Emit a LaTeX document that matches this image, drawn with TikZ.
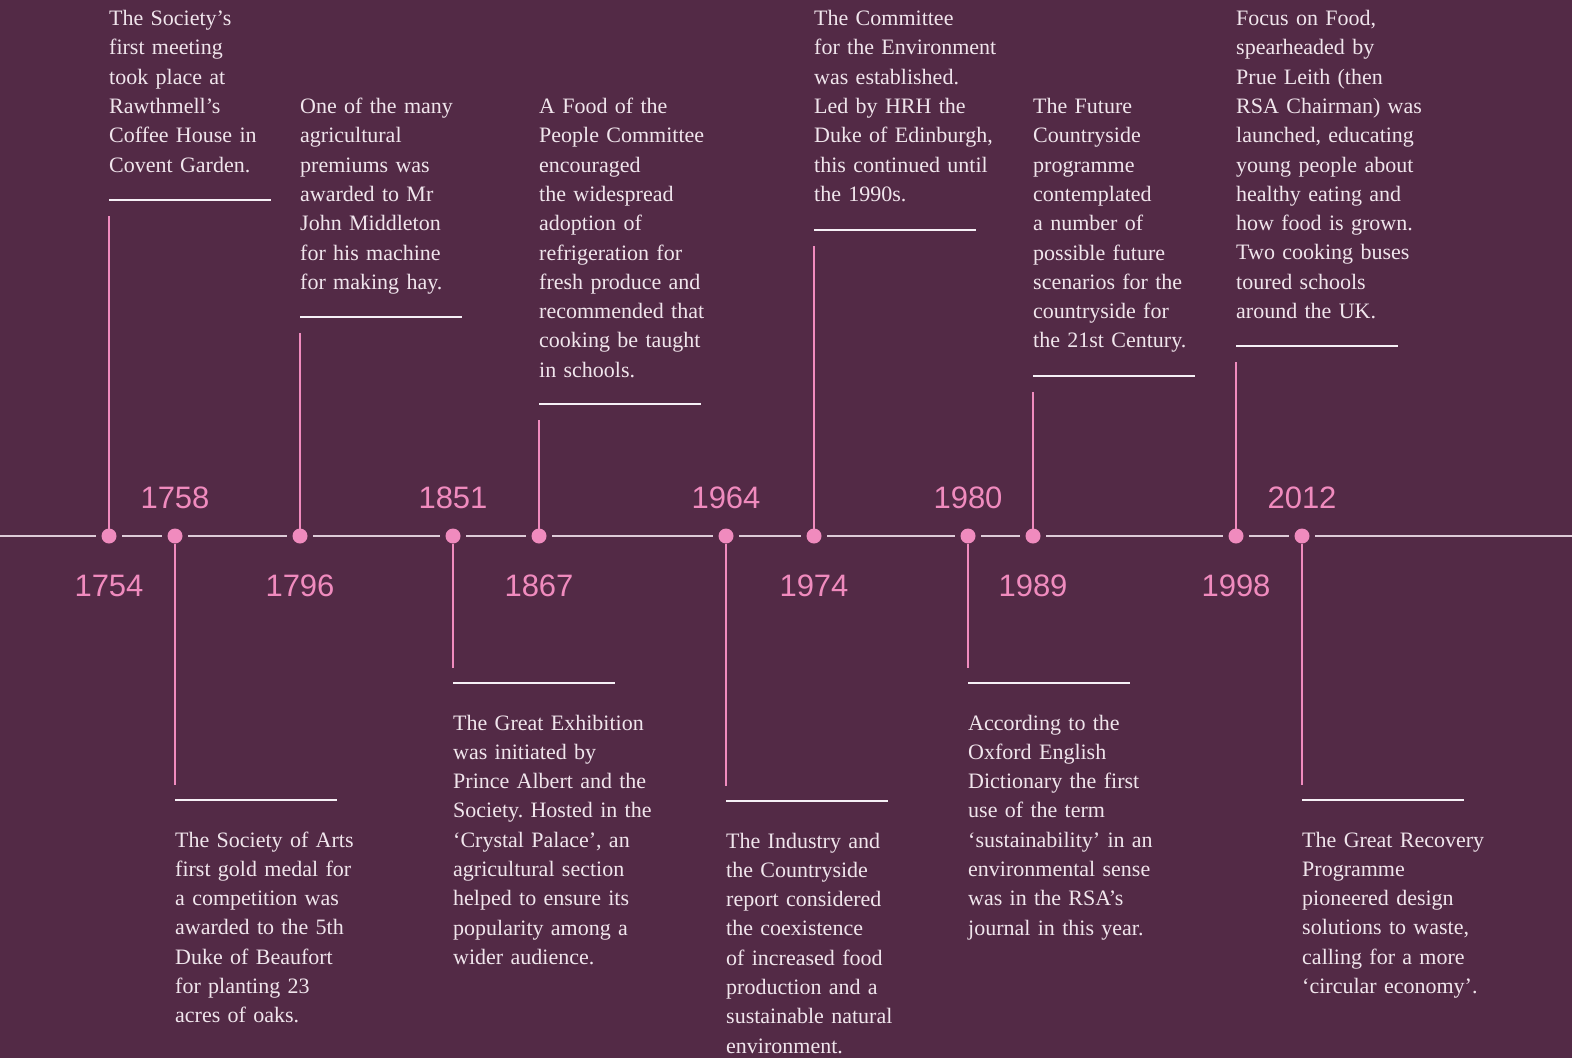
\documentclass[tikz,border=0pt]{standalone}
\usepackage{fontspec}
\setmainfont{Liberation Serif}
\newfontfamily\yearfont{Liberation Sans}
\usepackage{xcolor}
\usepackage{tikz}
\usetikzlibrary{positioning}
\frenchspacing

\definecolor{rsaplum}{RGB}{83,42,70}
\definecolor{rsapink}{RGB}{240,139,190}
\definecolor{rsatext}{RGB}{240,229,236}
\definecolor{rsarule}{RGB}{246,240,246}
\definecolor{rsaaxis}{RGB}{222,204,216}

\tikzset{
  eventdot/.style={circle, fill=rsapink, minimum size=15pt, inner sep=0pt, outer sep=0pt},
  stem/.style={draw=rsapink, line width=1.5pt},
  rulerline/.style={draw=rsarule, line width=1.6pt},
  axisline/.style={draw=rsaaxis, line width=1.6pt},
  yearlabel/.style={text=rsapink, font=\yearfont\fontsize{31}{31}\selectfont, inner sep=0pt},
  story/.style={text=rsatext, font=\fontsize{22}{29.3}\selectfont, text width=220pt,
    align=left, inner sep=0pt, anchor=base west}
}

\begin{document}
\begin{tikzpicture}[x=1pt, y=-1pt]
  \useasboundingbox (0,0) rectangle (1572,1058);
  \fill[rsaplum] (0,0) rectangle (1572,1058);

  % dots on the timeline
  \foreach \yr/\x in {1754/109, 1758/175, 1796/300, 1851/453, 1867/539, 1964/726,
                      1974/814, 1980/968, 1989/1033, 1998/1236, 2012/1302}
    \node[eventdot] (y\yr) at (\x,536) {};

  % timeline with gaps round the dots
  \coordinate (axisstart) at (0,536);
  \coordinate (axisend) at (1572,536);
  \draw[axisline, shorten >=5.5pt] (axisstart) -- (y1754);
  \foreach \a/\b in {1754/1758, 1758/1796, 1796/1851, 1851/1867, 1867/1964,
                     1964/1974, 1974/1980, 1980/1989, 1989/1998, 1998/2012}
    \draw[axisline, shorten <=5.5pt, shorten >=5.5pt] (y\a) -- (y\b);
  \draw[axisline, shorten <=5.5pt] (y2012) -- (axisend);

  % stems and rules: year / stem end / rule
  \foreach \yr/\stemy/\sepy in {1754/216/200, 1796/333/317, 1867/420/404, 1974/246/230,
                                1989/392/376, 1998/362/346, 1758/785/800, 1851/668/683,
                                1964/786/801, 1980/668/683, 2012/785/800} {
    \coordinate (s\yr) at (y\yr |- 0,\stemy);
    \coordinate (r\yr) at (y\yr |- 0,\sepy);
    \coordinate (e\yr) at ([xshift=162pt]r\yr);
    \draw[stem] (y\yr) -- (s\yr);
    \draw[rulerline] (r\yr) -- (e\yr);
  }

  % year labels
  \node[yearlabel, below=31pt of y1754] (l1754) {1754};
  \node[yearlabel, below=31pt of y1796] (l1796) {1796};
  \node[yearlabel, below=31pt of y1867] (l1867) {1867};
  \node[yearlabel, below=31pt of y1974] (l1974) {1974};
  \node[yearlabel, below=31pt of y1989] (l1989) {1989};
  \node[yearlabel, below=31pt of y1998] (l1998) {1998};
  \node[yearlabel, above=20pt of y1758] (l1758) {1758};
  \node[yearlabel, above=20pt of y1851] (l1851) {1851};
  \node[yearlabel, above=20pt of y1964] (l1964) {1964};
  \node[yearlabel, above=20pt of y1980] (l1980) {1980};
  \node[yearlabel, above=20pt of y2012] (l2012) {2012};

  % texts above the line
  \node[story] (t1754) at (y1754 |- 0,25.5) {The Society’s\\ first meeting\\ took place at\\
    Rawthmell’s\\ Coffee House in\\ Covent Garden.};
  \node[story] (t1796) at (y1796 |- 0,113.5) {One of the many\\ agricultural\\ premiums was\\
    awarded to Mr\\ John Middleton\\ for his machine\\ for making hay.};
  \node[story] (t1867) at (y1867 |- 0,113.5) {A Food of the\\ People Committee\\ encouraged\\
    the widespread\\ adoption of\\ refrigeration for\\ fresh produce and\\
    recommended that\\ cooking be taught\\ in schools.};
  \node[story] (t1974) at (y1974 |- 0,25.5) {The Committee\\ for the Environment\\
    was established.\\ Led by HRH the\\ Duke of Edinburgh,\\ this continued until\\ the 1990s.};
  \node[story] (t1989) at (y1989 |- 0,113.5) {The Future\\ Countryside\\ programme\\
    contemplated\\ a number of\\ possible future\\ scenarios for the\\ countryside for\\
    the 21st Century.};
  \node[story] (t1998) at (y1998 |- 0,25.5) {Focus on Food,\\ spearheaded by\\ Prue Leith (then\\
    RSA Chairman) was\\ launched, educating\\ young people about\\ healthy eating and\\
    how food is grown.\\ Two cooking buses\\ toured schools\\ around the UK.};

  % texts below the line
  \node[story] (t1758) at (y1758 |- 0,847) {The Society of Arts\\ first gold medal for\\
    a competition was\\ awarded to the 5th\\ Duke of Beaufort\\ for planting 23\\ acres of oaks.};
  \node[story] (t1851) at (y1851 |- 0,730) {The Great Exhibition\\ was initiated by\\
    Prince Albert and the\\ Society. Hosted in the\\ ‘Crystal Palace’, an\\
    agricultural section\\ helped to ensure its\\ popularity among a\\ wider audience.};
  \node[story] (t1964) at (y1964 |- 0,848) {The Industry and\\ the Countryside\\
    report considered\\ the coexistence\\ of increased food\\ production and a\\
    sustainable natural\\ environment.};
  \node[story] (t1980) at (y1980 |- 0,730) {According to the\\ Oxford English\\
    Dictionary the first\\ use of the term\\ ‘sustainability’ in an\\ environmental sense\\
    was in the RSA’s\\ journal in this year.};
  \node[story] (t2012) at (y2012 |- 0,847) {The Great Recovery\\ Programme\\
    pioneered design\\ solutions to waste,\\ calling for a more\\ ‘circular economy’.};
\end{tikzpicture}
\end{document}
